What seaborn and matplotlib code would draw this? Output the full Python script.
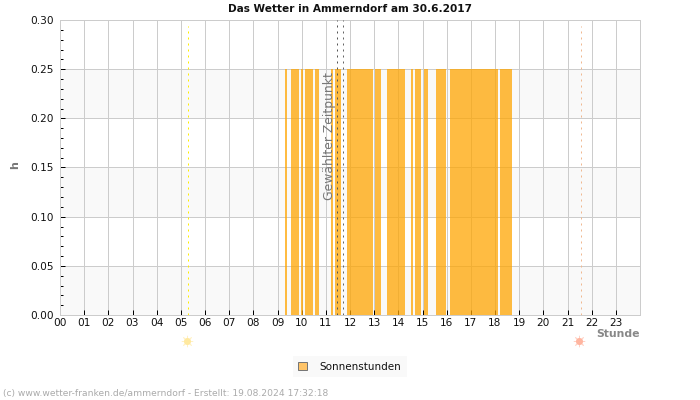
import numpy as np
import pandas as pd
import matplotlib
matplotlib.use("Agg")
import matplotlib.pyplot as plt
from matplotlib.patches import Patch
from matplotlib.ticker import MultipleLocator
import seaborn as sns

# ==================== DATA ====================
# sunny 5 minute slots of the day (slot / 12 = hour)
sun_slots = [112, 115, 116, 117, 118, 120, 122, 123, 124, 125, 127, 128, 135,
             137, 138, 139, 143, 144, 145, 146, 147, 148, 149, 150, 151, 152,
             153, 154, 155, 157, 158, 159, 163, 164, 165, 166, 167, 168, 169,
             170, 171, 175, 177, 178, 179, 181, 182, 187, 188, 189, 190, 191,
             194, 195, 196, 197, 198, 199, 200, 201, 202, 203, 204, 205, 206,
             207, 208, 209, 210, 211, 212, 213, 214, 215, 216, 217, 219, 220,
             221, 222, 223, 224]
sun_value = 0.25
hour_labels = ["00", "01", "02", "03", "04", "05", "06", "07", "08", "09", "10", "11",
               "12", "13", "14", "15", "16", "17", "18", "19", "20", "21", "22", "23"]
sunrise = 5.3
sunset = 21.55
selected = [11.45, 11.70]

df = pd.DataFrame({"hour": [s / 12 for s in sun_slots], "value": sun_value})

# ==================== CONFIG ====================
sns.set_theme(style="white")
plt.rcParams["font.family"] = "DejaVu Sans"
GRID = "#cccccc"
PX = 0.72  # one pixel in points at dpi 100

fig = plt.figure(figsize=(7, 4), dpi=100)
ax = fig.add_axes([60 / 700, 1 - 315 / 400, 580 / 700, 295 / 400])

for low in [0.0, 0.10, 0.20]:
    ax.axhspan(low, low + 0.05, color="#f9f9f9", lw=0, zorder=0)

sns.barplot(data=df, x="hour", y="value", native_scale=True, color="#ffa500",
            saturation=1, alpha=0.74, width=1, gap=0, linewidth=0, ax=ax, zorder=2)
for p in ax.patches:
    p.set_antialiased(False)

ax.set_xlim(0, 24)
ax.set_ylim(0, 0.30)
ax.set_xticks(range(24))
ax.set_xticklabels(hour_labels)
ax.yaxis.set_major_locator(MultipleLocator(0.05))
ax.yaxis.set_minor_locator(MultipleLocator(0.01))
ax.yaxis.set_major_formatter("{x:.2f}")
ax.set_xlabel("")
ax.set_ylabel("")
ax.grid(True, which="major", color=GRID, lw=PX, zorder=1)
ax.set_axisbelow(True)
ax.tick_params(axis="both", which="major", direction="in", length=3.6, width=PX, color="black",
               labelsize=7.6, labelcolor="#111111", pad=2.5, bottom=True, left=True)
ax.tick_params(axis="y", which="major", pad=4.5)
ax.tick_params(axis="y", which="minor", direction="in", length=2.2, width=PX, color="black", left=True)
for s in ax.spines.values():
    s.set_color(GRID)
    s.set_linewidth(PX)

# sunrise, sunset, selected time
ax.axvline(sunrise, ymax=0.98, color="#ffee00", ls=(0, (2, 4)), lw=PX, zorder=3)
ax.axvline(sunset, ymax=0.98, color="#f0b890", ls=(0, (2, 4)), lw=PX, zorder=3)
ax.axvline(selected[0], color="#555555", ls=(0, (2, 4)), lw=PX, zorder=3)
ax.axvline(selected[1], color="#666666", ls=(0, (2, 4)), lw=PX, zorder=3)
ax.text(11.41, 0.182, "Gewählter Zeitpunkt", rotation=90, ha="right", va="center",
        fontsize=8.9, color="#777777", zorder=4)

# sun icons under the axis
trans = ax.get_xaxis_transform()
for x, col in [(sunrise - 0.03, "#ffe9a0"), (sunset - 0.06, "#ffb5a0")]:
    ax.scatter([x], [-0.0885], s=26, color=col, marker="o", lw=0, transform=trans, clip_on=False, zorder=5)
    ax.scatter([x], [-0.0885], s=60, color=col, marker=(8, 2, 0), lw=0.6, alpha=0.6,
               transform=trans, clip_on=False, zorder=5)

fig.text(350 / 700, 1 - 9 / 400, "Das Wetter in Ammerndorf am 30.6.2017", ha="center", va="center",
         fontsize=7.6, fontweight="bold", color="#111111")
fig.text(15 / 700, 1 - 165 / 400, "h", rotation=90, ha="center", va="center",
         fontsize=8, fontweight="bold", color="#777777")
fig.text(640 / 700, 1 - 334 / 400, "Stunde", ha="right", va="center",
         fontsize=7.8, fontweight="bold", color="#888888")
fig.text(3 / 700, 1 - 393.5 / 400, "(c) www.wetter-franken.de/ammerndorf - Erstellt: 19.08.2024 17:32:18",
         ha="left", va="center", fontsize=6.56, color="#aaaaaa")

# legend
handle = Patch(facecolor="#ffc468", edgecolor="#777777", lw=PX, label="Sonnenstunden")
fig.legend(handles=[handle], loc="center", bbox_to_anchor=(350 / 700, 1 - 366.5 / 400), fontsize=7.5,
           frameon=True, facecolor="#f9f9f9", edgecolor="none", fancybox=False, framealpha=1,
           handlelength=0.85, handleheight=0.85, handletextpad=1.2, borderpad=0.55, labelcolor="#111111")

plt.savefig("out.png", dpi=100)
